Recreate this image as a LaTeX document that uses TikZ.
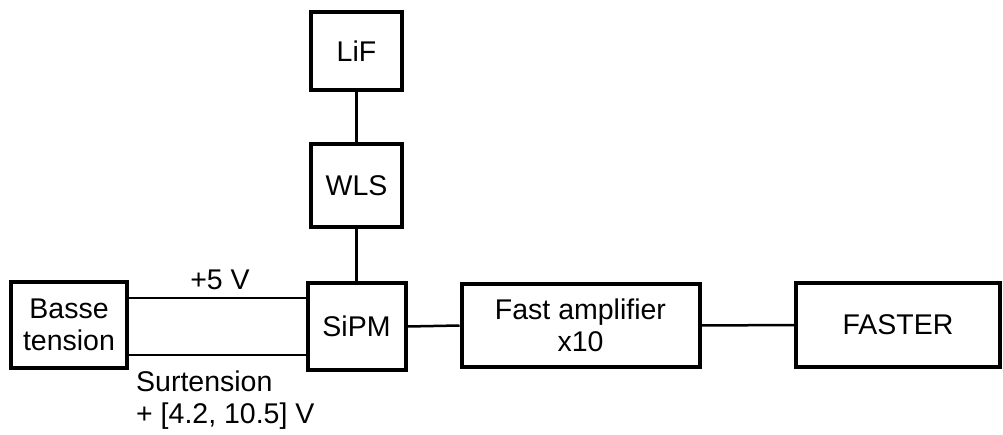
\documentclass[tikz,border=0pt]{standalone}
\usepackage{fontspec}
\setmainfont{Liberation Sans}
\begin{document}
\begin{tikzpicture}[x=1pt,y=-1pt,
  box/.style={draw=black,line width=4pt,inner sep=0pt,align=center,
    font=\fontsize{28.5}{32}\selectfont},
  wire/.style={draw=black,line width=2.5pt},
  lbl/.style={inner sep=0pt,font=\fontsize{28.5}{32}\selectfont}]
\useasboundingbox (0,0) rectangle (1003,435);
\node[box,minimum width=91pt,minimum height=78pt] (lif) at (356.5,51) {LiF};
\node[box,minimum width=91pt,minimum height=83pt] (wls) at (356.5,185.5) {WLS};
\node[box,minimum width=98pt,minimum height=86pt] (sipm) at (356.5,326.5) {SiPM};
\node[box,minimum width=116pt,minimum height=86pt] (basse) at (69,325) {Basse\\tension};
\node[box,minimum width=238pt,minimum height=83pt] (amp) at (580.5,325.5) {Fast amplifier\\x10};
\node[box,minimum width=204pt,minimum height=84pt] (faster) at (898,325) {FASTER};
\coordinate (ytop) at (0,298);
\coordinate (ybot) at (0,355);
\draw[wire] (lif.south) -- (wls.north);
\draw[wire] (wls.south) -- (sipm.north);
\draw[wire] (basse.east |- ytop) -- (sipm.west |- ytop);
\draw[wire] (basse.east |- ybot) -- (sipm.west |- ybot);
\draw[wire] (sipm.east) -- (amp.west);
\draw[wire] (amp.east) -- (faster.west);
\node[lbl] (v5) at (220,280) {+5 V};
\node[lbl,anchor=north west,align=left] (surt) at (136,371) {Surtension\\+ [4.2, 10.5] V};
\end{tikzpicture}
\end{document}
